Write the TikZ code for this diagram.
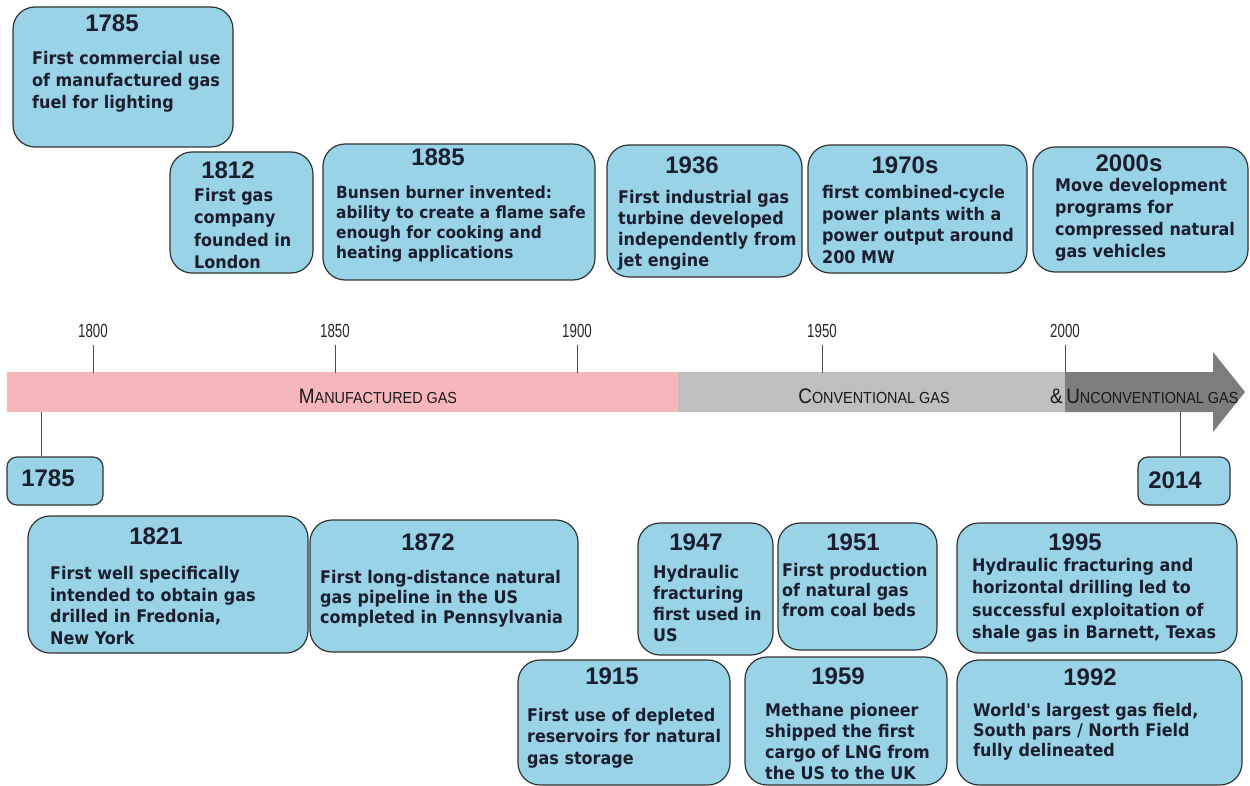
\documentclass[tikz,border=0pt]{standalone}
\usepackage{fontspec}
\usetikzlibrary{fit}
\newfontfamily\bodyfont[FakeStretch=0.92]{DejaVu Sans}
\newfontfamily\yearfont{Liberation Sans}
\newfontfamily\narrowfont[FakeStretch=0.9]{Liberation Sans}
\newfontfamily\ticksfont[FakeStretch=0.7]{Liberation Sans}
\definecolor{boxblue}{RGB}{152,211,231}
\definecolor{pinkbar}{RGB}{246,182,186}
\definecolor{graybar}{RGB}{191,191,191}
\definecolor{darkbar}{RGB}{125,125,125}
\definecolor{txt}{RGB}{28,30,45}
\newcommand\fsc[2]{{\fontsize{21}{21}\selectfont #1}{\fontsize{16}{16}\selectfont #2}}
\tikzset{
  evbox/.style={draw=black!80, line width=1.2pt, fill=boxblue, rounded corners=22pt, inner sep=0pt},
  smallbox/.style={evbox, rounded corners=10pt},
  yr/.style={font=\yearfont\bfseries\fontsize{24}{24}\selectfont, text=txt, inner sep=0pt},
  bd/.style={font=\bodyfont\bfseries\fontsize{17.4}{#1}\selectfont, align=left, anchor=north west, inner sep=0pt, text=txt},
  bd/.default=21,
  ticklbl/.style={font=\ticksfont\fontsize{19}{19}\selectfont, text=black!85, inner sep=0pt},
  barlbl/.style={font=\narrowfont, text=black!90, inner sep=0pt},
  tickline/.style={draw=black!70, line width=1pt}
}
\begin{document}
\begin{tikzpicture}[x=1pt,y=-1pt]
\useasboundingbox (0,0) rectangle (1250,786);
\fill[white] (0,0) rectangle (1250,786);

% ---- timeline bar ----
\fill[pinkbar] (7,372) rectangle (678,412);
\fill[graybar] (678,372) rectangle (1065,412);
\fill[darkbar] (1065,372) -- (1213,372) -- (1213,352) -- (1245,392) -- (1213,432) -- (1213,412) -- (1065,412) -- cycle;

\node[barlbl] (lman) at (378,396) {\fsc{M}{ANUFACTURED GAS}};
\node[barlbl] (lconv) at (874,396) {\fsc{C}{ONVENTIONAL GAS}};
\node[barlbl, anchor=west] (lunc) at (1050,396) {\fsc{\&\,U}{NCONVENTIONAL GAS}};

% ---- tick marks above ----
\foreach \yy/\xx in {1800/93,1850/335,1900/577,1950/822,2000/1065}{
  \coordinate (t\yy) at (\xx,373);
  \node[ticklbl] (tl\yy) at (\xx,331) {\yy};
  \draw[tickline] (t\yy) -- ++(0,-28);
}

% ---- top boxes ----
\node[evbox, fit={(13,7)(233,147)}] (b1785) {};
\node[yr] at (112,23) {1785};
\node[bd=22] at (32,51) {First commercial use\\of manufactured gas\\fuel for lighting};

\node[evbox, fit={(170,152)(313,273)}] (b1812) {};
\node[yr] at (228,170) {1812};
\node[bd=22.3] at (194,188) {First gas\\company\\founded in\\London};

\node[evbox, fit={(323,144)(595,280)}] (b1885) {};
\node[yr] at (438,157) {1885};
\node[bd=19.8, font=\bodyfont\bfseries\fontsize{16.7}{19.8}\selectfont] at (336,186) {Bunsen burner invented:\\ability to create a flame safe\\enough for cooking and\\heating applications};

\node[evbox, fit={(607,145)(802,277)}] (b1936) {};
\node[yr] at (692,165) {1936};
\node[bd=21] at (618,190) {First industrial gas\\turbine developed\\independently from\\jet engine};

\node[evbox, fit={(808,145)(1027,273)}] (b1970) {};
\node[yr] at (905,165) {1970s};
\node[bd=21.7] at (822,185) {first combined-cycle\\power plants with a\\power output around\\200 MW};

\node[evbox, fit={(1033,147)(1248,272)}] (b2000) {};
\node[yr] at (1129,163) {2000s};
\node[bd=22] at (1055,178) {Move development\\programs for\\compressed natural\\gas vehicles};

% ---- small boxes under the bar ----
\node[smallbox, fit={(7,457)(103,505)}] (s1785) {};
\node[yr] at (48,478) {1785};
\coordinate (c1785) at (41,412);
\draw[tickline] (c1785) -- (c1785 |- s1785.north);

\node[smallbox, fit={(1138,457)(1230,505)}] (s2014) {};
\node[yr] at (1175,480) {2014};
\coordinate (c2014) at (1180,412);
\draw[tickline] (c2014) -- (c2014 |- s2014.north);

% ---- bottom boxes ----
\node[evbox, fit={(28,516)(308,653)}] (b1821) {};
\node[yr] at (156,536) {1821};
\node[bd=21.7] at (50,566) {First well specifically\\intended to obtain gas\\drilled in Fredonia,\\New York};

\node[evbox, fit={(310,520)(578,652)}] (b1872) {};
\node[yr] at (428,542) {1872};
\node[bd=20] at (320,570) {First long-distance natural\\gas pipeline in the US\\completed in Pennsylvania};

\node[evbox, fit={(638,523)(773,655)}] (b1947) {};
\node[yr] at (696,542) {1947};
\node[bd=21] at (653,565) {Hydraulic\\fracturing\\first used in\\US};

\node[evbox, fit={(778,523)(937,650)}] (b1951) {};
\node[yr] at (853,542) {1951};
\node[bd=20] at (782,563) {First production\\of natural gas\\from coal beds};

\node[evbox, fit={(957,523)(1237,653)}] (b1995) {};
\node[yr] at (1075,542) {1995};
\node[bd=22.3] at (972,558) {Hydraulic fracturing and\\horizontal drilling led to\\successful exploitation of\\shale gas in Barnett, Texas};

\node[evbox, fit={(518,660)(730,785)}] (b1915) {};
\node[yr] at (612,676) {1915};
\node[bd=21.5] at (527,708) {First use of depleted\\reservoirs for natural\\gas storage};

\node[evbox, fit={(745,657)(947,785)}] (b1959) {};
\node[yr] at (838,676) {1959};
\node[bd=21] at (765,703) {Methane pioneer\\shipped the first\\cargo of LNG from\\the US to the UK};

\node[evbox, fit={(957,660)(1242,785)}] (b1992) {};
\node[yr] at (1090,677) {1992};
\node[bd=20] at (973,703) {World's largest gas field,\\South pars / North Field\\fully delineated};
\end{tikzpicture}
\end{document}
